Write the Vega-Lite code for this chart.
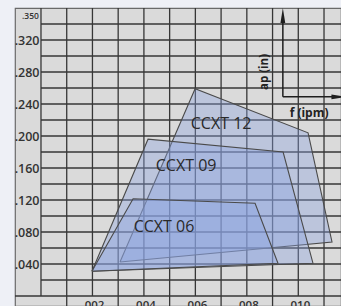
{
  "$schema": "https://vega.github.io/schema/vega-lite/v6.json",
  "width": 326,
  "height": 298,
  "autosize": {"type": "none"},
  "padding": {"left": 15, "top": 8, "right": 0, "bottom": 0},
  "background": "#eef0f6",
  "config": {
    "view": {"fill": "#dadada", "stroke": "#6a6a6a", "strokeWidth": 1.2},
    "font": "Open Sans",
    "axis": {"labelOverlap": false, "labelBound": false}
  },
  "datasets": {
    "vgrid": [{"f": 0}, {"f": 0.001}, {"f": 0.002}, {"f": 0.003}, {"f": 0.004}, {"f": 0.005}, {"f": 0.006}, {"f": 0.007}, {"f": 0.008}, {"f": 0.009}, {"f": 0.01}, {"f": 0.011}],
    "hgrid": [{"ap": 0.02}, {"ap": 0.04}, {"ap": 0.06}, {"ap": 0.08}, {"ap": 0.1}, {"ap": 0.12}, {"ap": 0.14}, {"ap": 0.16}, {"ap": 0.18}, {"ap": 0.2}, {"ap": 0.22}, {"ap": 0.24}, {"ap": 0.26}, {"ap": 0.28}, {"ap": 0.3}, {"ap": 0.32}, {"ap": 0.34}],
    "bgrid": [{"f": 0.001}, {"f": 0.003}, {"f": 0.005}, {"f": 0.007}, {"f": 0.009}, {"f": 0.011}],
    "zones": [
      {"name": "CCXT 12", "i": 0, "f": 0.00307, "ap": 0.0425},
      {"name": "CCXT 12", "i": 1, "f": 0.00599, "ap": 0.259},
      {"name": "CCXT 12", "i": 2, "f": 0.01038, "ap": 0.204},
      {"name": "CCXT 12", "i": 3, "f": 0.01131, "ap": 0.0675},
      {"name": "CCXT 12", "i": 4, "f": 0.00307, "ap": 0.0425},
      {"name": "CCXT 09", "i": 0, "f": 0.00198, "ap": 0.031},
      {"name": "CCXT 09", "i": 1, "f": 0.00416, "ap": 0.196},
      {"name": "CCXT 09", "i": 2, "f": 0.00941, "ap": 0.18},
      {"name": "CCXT 09", "i": 3, "f": 0.01057, "ap": 0.041},
      {"name": "CCXT 09", "i": 4, "f": 0.00198, "ap": 0.031},
      {"name": "CCXT 06", "i": 0, "f": 0.00198, "ap": 0.031},
      {"name": "CCXT 06", "i": 1, "f": 0.00358, "ap": 0.1215},
      {"name": "CCXT 06", "i": 2, "f": 0.00832, "ap": 0.116},
      {"name": "CCXT 06", "i": 3, "f": 0.00921, "ap": 0.041},
      {"name": "CCXT 06", "i": 4, "f": 0.00198, "ap": 0.031}
    ],
    "labels": [
      {"name": "CCXT 12", "f": 0.0070, "ap": 0.215},
      {"name": "CCXT 09", "f": 0.00564, "ap": 0.1625},
      {"name": "CCXT 06", "f": 0.00478, "ap": 0.086}
    ],
    "insetLines": [
      {"f": 0.0094, "ap": 0.249, "f2": 0.0094, "ap2": 0.345},
      {"f": 0.0094, "ap": 0.249, "f2": 0.0114, "ap2": 0.249}
    ],
    "insetHeads": [
      {"dir": "up", "f": 0.0094, "ap": 0.3506},
      {"dir": "right", "f": 0.01158, "ap": 0.249}
    ]
  },
  "layer": [
    {
      "data": {"name": "vgrid"},
      "mark": {"type": "rule", "color": "#363636", "strokeWidth": 1.3},
      "encoding": {
        "x": {"field": "f", "type": "quantitative", "title": null,
          "scale": {"domain": [-0.00101, 0.01166], "nice": false, "zero": false},
          "axis": {"values": [0.002, 0.004, 0.006, 0.008, 0.01],
            "labelExpr": "replace(format(datum.value,'.3f'),'0.','.')",
            "title": null, "domain": false, "ticks": false, "tickSize": 0, "grid": false,
            "labelPadding": -7, "labelFontSize": 11.5, "labelFontWeight": 600,
            "labelColor": "#333333", "labelFlush": false, "labelOverlap": false}},
        "y": {"datum": 0, "type": "quantitative", "title": null,
          "scale": {"domain": [-0.0125, 0.36], "nice": false, "zero": false}},
        "y2": {"datum": 0.36}
      }
    },
    {
      "data": {"name": "hgrid"},
      "mark": {"type": "rule", "color": "#363636", "strokeWidth": 1.3},
      "encoding": {
        "y": {"field": "ap", "type": "quantitative", "title": null,
          "scale": {"domain": [-0.0125, 0.36], "nice": false, "zero": false},
          "axis": {"values": [0.04, 0.08, 0.12, 0.16, 0.2, 0.24, 0.28, 0.32],
            "labelExpr": "replace(format(datum.value,'.3f'),'0.','.')",
            "title": null, "domain": false, "ticks": false, "tickSize": 0, "grid": false,
            "labelPadding": -24, "labelAlign": "right",
            "labelFontSize": 12.5,
            "labelFontWeight": 600, "labelColor": "#333333", "labelFlush": false, "labelOverlap": false}},
        "x": {"datum": 0, "type": "quantitative", "title": null,
          "scale": {"domain": [-0.00101, 0.01166], "nice": false, "zero": false}},
        "x2": {"datum": 0.01166}
      }
    },
    {
      "data": {"name": "bgrid"},
      "mark": {"type": "rule", "color": "#363636", "strokeWidth": 1.3},
      "encoding": {
        "x": {"field": "f", "type": "quantitative", "title": null,
          "scale": {"domain": [-0.00101, 0.01166], "nice": false, "zero": false}},
        "y": {"datum": -0.0125, "type": "quantitative", "title": null,
          "scale": {"domain": [-0.0125, 0.36], "nice": false, "zero": false}},
        "y2": {"datum": 0}
      }
    },
    {
      "data": {"values": [{"ap": 0}]},
      "mark": {"type": "rule", "color": "#363636", "strokeWidth": 1.3},
      "encoding": {
        "y": {"field": "ap", "type": "quantitative", "title": null,
          "scale": {"domain": [-0.0125, 0.36], "nice": false, "zero": false}},
        "x": {"datum": -0.00101, "type": "quantitative", "title": null,
          "scale": {"domain": [-0.00101, 0.01166], "nice": false, "zero": false}},
        "x2": {"datum": 0.01166}
      }
    },
    {
      "data": {"values": [{"label": ".350", "f": -0.00008, "ap": 0.35}]},
      "mark": {"type": "text", "align": "right", "baseline": "middle", "fontSize": 8.5, "fontWeight": 600, "color": "#333333", "font": "Open Sans"},
      "encoding": {
        "x": {"field": "f", "type": "quantitative", "title": null,
          "scale": {"domain": [-0.00101, 0.01166], "nice": false, "zero": false}},
        "y": {"field": "ap", "type": "quantitative", "title": null,
          "scale": {"domain": [-0.0125, 0.36], "nice": false, "zero": false}},
        "text": {"field": "label"}
      }
    },
    {
      "data": {"name": "zones"},
      "transform": [{"filter": "datum.name == 'CCXT 12'"}],
      "mark": {"type": "line", "fill": "#8aa2e2", "fillOpacity": 0.37, "stroke": "#4a4a4a", "strokeWidth": 1.1},
      "encoding": {
        "x": {"field": "f", "type": "quantitative", "title": null,
          "scale": {"domain": [-0.00101, 0.01166], "nice": false, "zero": false}},
        "y": {"field": "ap", "type": "quantitative", "title": null,
          "scale": {"domain": [-0.0125, 0.36], "nice": false, "zero": false}},
        "order": {"field": "i", "type": "quantitative"}
      }
    },
    {
      "data": {"name": "zones"},
      "transform": [{"filter": "datum.name == 'CCXT 09'"}],
      "mark": {"type": "line", "fill": "#8aa2e2", "fillOpacity": 0.37, "stroke": "#4a4a4a", "strokeWidth": 1.1},
      "encoding": {
        "x": {"field": "f", "type": "quantitative", "title": null,
          "scale": {"domain": [-0.00101, 0.01166], "nice": false, "zero": false}},
        "y": {"field": "ap", "type": "quantitative", "title": null,
          "scale": {"domain": [-0.0125, 0.36], "nice": false, "zero": false}},
        "order": {"field": "i", "type": "quantitative"}
      }
    },
    {
      "data": {"name": "zones"},
      "transform": [{"filter": "datum.name == 'CCXT 06'"}],
      "mark": {"type": "line", "fill": "#8aa2e2", "fillOpacity": 0.37, "stroke": "#4a4a4a", "strokeWidth": 1.1},
      "encoding": {
        "x": {"field": "f", "type": "quantitative", "title": null,
          "scale": {"domain": [-0.00101, 0.01166], "nice": false, "zero": false}},
        "y": {"field": "ap", "type": "quantitative", "title": null,
          "scale": {"domain": [-0.0125, 0.36], "nice": false, "zero": false}},
        "order": {"field": "i", "type": "quantitative"}
      }
    },
    {
      "data": {"name": "labels"},
      "mark": {"type": "text", "fontSize": 16, "color": "#2a2a2a", "font": "Open Sans"},
      "encoding": {
        "x": {"field": "f", "type": "quantitative", "title": null,
          "scale": {"domain": [-0.00101, 0.01166], "nice": false, "zero": false}},
        "y": {"field": "ap", "type": "quantitative", "title": null,
          "scale": {"domain": [-0.0125, 0.36], "nice": false, "zero": false}},
        "text": {"field": "name"}
      }
    },
    {
      "data": {"name": "insetLines"},
      "mark": {"type": "rule", "color": "#1e1e1e", "strokeWidth": 1.5},
      "encoding": {
        "x": {"field": "f", "type": "quantitative", "title": null,
          "scale": {"domain": [-0.00101, 0.01166], "nice": false, "zero": false}},
        "y": {"field": "ap", "type": "quantitative", "title": null,
          "scale": {"domain": [-0.0125, 0.36], "nice": false, "zero": false}},
        "x2": {"field": "f2"},
        "y2": {"field": "ap2"}
      }
    },
    {
      "data": {"name": "insetHeads"},
      "mark": {"type": "point", "filled": true, "color": "#1e1e1e", "opacity": 1, "size": 225},
      "encoding": {
        "x": {"field": "f", "type": "quantitative", "title": null,
          "scale": {"domain": [-0.00101, 0.01166], "nice": false, "zero": false}},
        "y": {"field": "ap", "type": "quantitative", "title": null,
          "scale": {"domain": [-0.0125, 0.36], "nice": false, "zero": false}},
        "shape": {"field": "dir", "type": "nominal",
          "scale": {"domain": ["up", "right"], "range": ["M0,-1L0.32,1L-0.32,1Z", "M1,0L-1,0.32L-1,-0.32Z"]},
          "legend": null}
      }
    },
    {
      "data": {"values": [{"label": "ap (in)", "f": 0.0087, "ap": 0.28}]},
      "mark": {"type": "text", "angle": 270, "fontSize": 11.5, "fontWeight": "bold", "color": "#222222", "font": "Open Sans"},
      "encoding": {
        "x": {"field": "f", "type": "quantitative", "title": null,
          "scale": {"domain": [-0.00101, 0.01166], "nice": false, "zero": false}},
        "y": {"field": "ap", "type": "quantitative", "title": null,
          "scale": {"domain": [-0.0125, 0.36], "nice": false, "zero": false}},
        "text": {"field": "label"}
      }
    },
    {
      "data": {"values": [{"label": "f (ipm)", "f": 0.01042, "ap": 0.229}]},
      "mark": {"type": "text", "fontSize": 12, "fontWeight": "bold", "color": "#222222", "font": "Open Sans"},
      "encoding": {
        "x": {"field": "f", "type": "quantitative", "title": null,
          "scale": {"domain": [-0.00101, 0.01166], "nice": false, "zero": false}},
        "y": {"field": "ap", "type": "quantitative", "title": null,
          "scale": {"domain": [-0.0125, 0.36], "nice": false, "zero": false}},
        "text": {"field": "label"}
      }
    }
  ]
}
